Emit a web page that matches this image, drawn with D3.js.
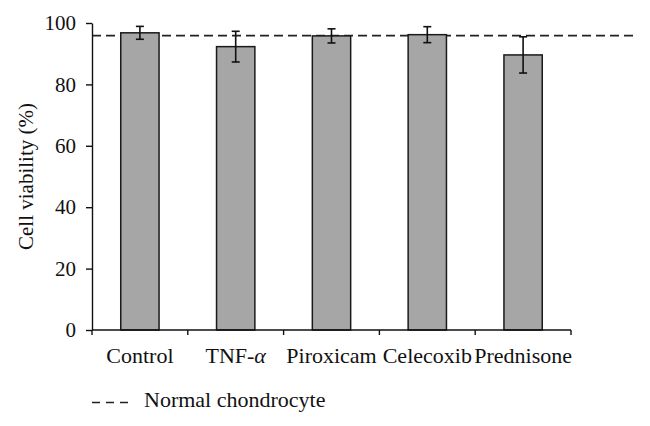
<!DOCTYPE html>
<html>
<head>
<meta charset="utf-8">
<script src="https://cdn.jsdelivr.net/npm/d3@7"></script>
<style>
  html, body { margin: 0; padding: 0; background: #fff; }
  svg { display: block; }
  text { font-family: "Liberation Serif", "Times New Roman", serif; fill: #111; }
</style>
</head>
<body>
<svg id="chart" width="650" height="426"></svg>
<script>
const categories = ["Control", "TNF-α", "Piroxicam", "Celecoxib", "Prednisone"];
const values = [96.8, 92.3, 95.8, 96.2, 89.6];
const errors = [2.1, 5.0, 2.3, 2.6, 5.9];
const normalLevel = 95.9;
const yTicks = [0, 20, 40, 60, 80, 100];
const legendLabel = "Normal chondrocyte";
const yLabel = "Cell viability (%)";

(function () {
const svg = d3.select("#chart");
const plotLeft = 92, plotRight = 571, plotTop = 23, plotBottom = 330;

const x = d3.scaleBand().domain(categories).range([plotLeft, plotRight]).paddingInner(0.6).paddingOuter(0.3);
const xb = d3.scaleBand().domain(categories).range([plotLeft, plotRight]);
const y = d3.scaleLinear().domain([0, 100]).range([plotBottom, plotTop]);

// dashed reference line
svg.append("line")
  .attr("x1", plotLeft).attr("x2", 637)
  .attr("y1", y(normalLevel)).attr("y2", y(normalLevel))
  .attr("stroke", "#222").attr("stroke-width", 1.6)
  .attr("stroke-dasharray", "9,5");

// bars
svg.selectAll("rect.bar").data(categories).join("rect")
  .attr("class", "bar")
  .attr("x", (d) => x(d))
  .attr("width", x.bandwidth())
  .attr("y", (d, i) => y(values[i]))
  .attr("height", (d, i) => y(0) - y(values[i]))
  .attr("fill", "#a6a6a6")
  .attr("stroke", "#1a1a1a")
  .attr("stroke-width", 1.5);

// error bars
const eg = svg.append("g").attr("stroke", "#111").attr("stroke-width", 1.6);
categories.forEach((c, i) => {
  const cx = x(c) + x.bandwidth() / 2;
  const hi = y(values[i] + errors[i]), lo = y(values[i] - errors[i]);
  eg.append("line").attr("x1", cx).attr("x2", cx).attr("y1", hi).attr("y2", lo);
  eg.append("line").attr("x1", cx - 4).attr("x2", cx + 4).attr("y1", hi).attr("y2", hi);
  eg.append("line").attr("x1", cx - 4).attr("x2", cx + 4).attr("y1", lo).attr("y2", lo);
});

// y axis
const yAxis = svg.append("g").attr("transform", `translate(${plotLeft},0)`)
  .call(d3.axisLeft(y).tickValues(yTicks).tickSize(6).tickPadding(10).tickSizeOuter(0));
yAxis.select(".domain").attr("stroke", "#111").attr("stroke-width", 1.4);
yAxis.selectAll(".tick line").attr("stroke", "#111").attr("stroke-width", 1.4);
yAxis.selectAll(".tick text").attr("font-size", 21)
  .attr("font-family", "Liberation Serif, serif").attr("fill", "#111");

// x axis
const xAxis = svg.append("g").attr("transform", `translate(0,${plotBottom})`);
xAxis.append("line").attr("x1", plotLeft).attr("x2", plotRight).attr("y1", 0).attr("y2", 0)
  .attr("stroke", "#111").attr("stroke-width", 1.4);
const boundaries = categories.map((c) => xb(c)).concat([plotRight]);
xAxis.selectAll("line.tk").data(boundaries).join("line").attr("class", "tk")
  .attr("x1", (d) => d).attr("x2", (d) => d).attr("y1", 0).attr("y2", 5)
  .attr("stroke", "#111").attr("stroke-width", 1.4);
xAxis.selectAll("text.lbl").data(categories).join("text").attr("class", "lbl")
  .attr("x", (d) => xb(d) + xb.bandwidth() / 2)
  .attr("y", 33)
  .attr("text-anchor", "middle")
  .attr("font-size", 22)
  .each(function (d) {
    const t = d3.select(this);
    if (d.endsWith("α")) {
      t.append("tspan").text(d.slice(0, -1));
      t.append("tspan").attr("font-style", "italic").text("α");
    } else {
      t.text(d);
    }
  });

// y label
svg.append("text")
  .attr("transform", `translate(33,${(plotTop + plotBottom) / 2}) rotate(-90)`)
  .attr("text-anchor", "middle")
  .attr("font-size", 21)
  .text(yLabel);

// legend
const ly = 402.5;
svg.append("line").attr("x1", 92).attr("x2", 128).attr("y1", ly).attr("y2", ly)
  .attr("stroke", "#222").attr("stroke-width", 1.6).attr("stroke-dasharray", "8,6");
svg.append("text").attr("x", 144).attr("y", 407).attr("font-size", 22).text(legendLabel);
})();
</script>
</body>
</html>
